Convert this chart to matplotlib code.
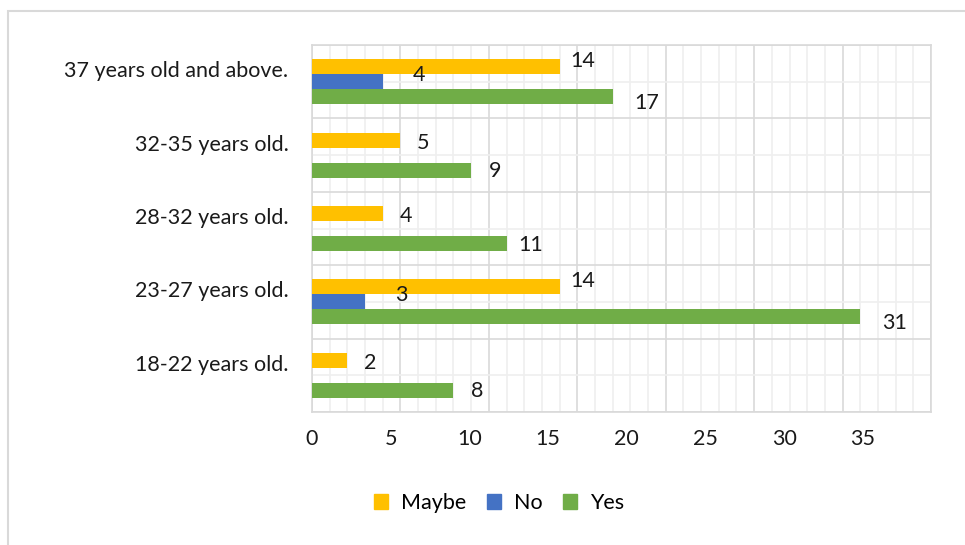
import matplotlib.pyplot as plt
import matplotlib.patches as mpatches
import numpy as np

plt.rcParams['font.family'] = ['Lato', 'DejaVu Sans']

# categories from bottom to top
categories = ['18-22 years old.', '23-27 years old.', '28-32 years old.',
              '32-35 years old.', '37 years old and above.']
maybe = [2, 14, 4, 5, 14]
no = [0, 3, 0, 0, 4]
yes = [8, 31, 11, 9, 17]
tick_labels = ['0', '5', '10', '15', '20', '25', '30', '35']

c_maybe = '#FFC000'
c_no = '#4472C4'
c_yes = '#70AD47'
txt = '#1a1a1a'
fs = 15.5

fig = plt.figure(figsize=(9.65, 5.45), dpi=100)
ax = fig.add_axes([312 / 965, 1 - 412 / 545, (931 - 312) / 965, (412 - 45) / 545])

y = np.arange(len(categories))
h = 0.205
ax.barh(y + h, maybe, height=h, color=c_maybe, label='Maybe', zorder=3)
ax.barh(y, no, height=h, color=c_no, label='No', zorder=3)
ax.barh(y - h, yes, height=h, color=c_yes, label='Yes', zorder=3)

# data labels
for i in y:
    three = no[i] > 0
    ax.annotate(str(maybe[i]), (maybe[i], y[i] + h), xytext=(23, 6 if three else -3),
                textcoords='offset pixels', ha='center', va='center', fontsize=fs, color=txt)
    if no[i] > 0:
        ax.annotate(str(no[i]), (no[i], y[i]), xytext=(36, 7),
                    textcoords='offset pixels', ha='center', va='center', fontsize=fs, color=txt)
    ax.annotate(str(yes[i]), (yes[i], y[i] - h), xytext=(34 if three else 24, -6 if three else -1),
                textcoords='offset pixels', ha='center', va='center', fontsize=fs, color=txt)

ax.set_xlim(0, 35)
ax.set_ylim(-0.5, len(categories) - 0.5)

# grid lines
for v in range(0, 36):
    ax.axvline(v, color='#d9d9d9' if v % 5 == 0 else '#efefef', lw=1.2, zorder=1)
for v in np.arange(-0.5, len(categories), 0.5):
    ax.axhline(v, color='#d9d9d9' if (v + 0.5) % 1 == 0 else '#efefef', lw=1.2, zorder=1)

for s in ax.spines.values():
    s.set_color('#d9d9d9')
    s.set_linewidth(1.2)

ax.set_xticks(np.arange(len(tick_labels)) * 4.45, tick_labels)
ax.set_yticks(y + 0.17, categories)
ax.tick_params(length=0, labelsize=fs, labelcolor=txt)
ax.tick_params(axis='y', pad=17)
ax.tick_params(axis='x', pad=12)

handles = [mpatches.Patch(color=c_maybe, label='Maybe'),
           mpatches.Patch(color=c_no, label='No'),
           mpatches.Patch(color=c_yes, label='Yes')]
fig.legend(handles=handles, loc='center', bbox_to_anchor=(0.517, 0.077), ncol=3,
           frameon=False, fontsize=fs, handlelength=0.65, handleheight=0.65,
           handletextpad=0.6, columnspacing=0.95)

# outer chart frame
fig.patches.append(mpatches.Rectangle((8 / 965, -0.05), 1.0, 1 - 11 / 545 + 0.05,
                                      transform=fig.transFigure, fill=False,
                                      edgecolor='#d9d9d9', lw=1.5))

fig.savefig('out.png', dpi=100)
